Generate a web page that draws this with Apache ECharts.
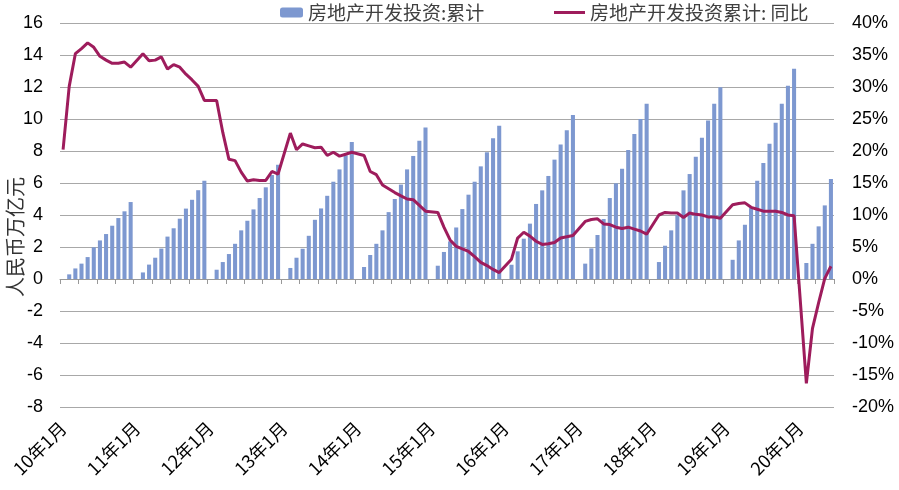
<!DOCTYPE html>
<html>
<head>
<meta charset="utf-8">
<script src="https://cdn.jsdelivr.net/npm/echarts@6/dist/echarts.min.js"></script>
<style>html,body{margin:0;padding:0;background:#fff;}#chart{width:899px;height:490px;}</style>
</head>
<body>
<div id="chart"></div>
<script>
// Years shown on the axis (category labels are "YY年M月")
var years = [10, 11, 12, 13, 14, 15, 16, 17, 18, 19, 20];
var monthsLastYear = 6;

// 房地产开发投资:累计 (万亿元), Jan..Dec per year
var inv2010 = [null, 0.29, 0.66, 0.96, 1.37, 1.98, 2.41, 2.81, 3.33, 3.81, 4.23, 4.81];
var inv2011 = [null, 0.41, 0.90, 1.33, 1.90, 2.65, 3.17, 3.77, 4.40, 4.95, 5.55, 6.14];
var inv2012 = [null, 0.58, 1.06, 1.56, 2.20, 3.04, 3.64, 4.35, 5.06, 5.73, 6.50, 7.14];
var inv2013 = [null, 0.69, 1.33, 1.89, 2.70, 3.70, 4.41, 5.20, 6.08, 6.85, 7.73, 8.56];
var inv2014 = [null, 0.75, 1.50, 2.20, 3.04, 4.18, 5.00, 5.90, 6.85, 7.69, 8.64, 9.47];
var inv2015 = [null, 0.83, 1.69, 2.35, 3.22, 4.37, 5.27, 6.08, 7.04, 7.92, 8.79, 9.58];
var inv2016 = [null, 0.89, 1.73, 2.52, 3.46, 4.69, 5.54, 6.44, 7.46, 8.40, 9.29, 10.25];
var inv2017 = [null, 0.96, 1.91, 2.75, 3.75, 5.06, 5.98, 6.89, 8.06, 9.06, 10.00, 10.96];
var inv2018 = [null, 1.06, 2.08, 3.04, 3.98, 5.54, 6.56, 7.64, 8.83, 9.91, 10.96, 11.98];
var inv2019 = [null, 1.20, 2.41, 3.39, 4.43, 6.14, 7.25, 8.46, 9.77, 10.96, 12.08, 13.14];
var inv2020 = [null, 1.00, 2.20, 3.29, 4.60, 6.25];

// 房地产开发投资累计: 同比 (%), Jan..Dec per year
var yoy2010 = [20.2, 30.1, 35.2, 36.0, 36.9, 36.2, 34.8, 34.2, 33.7, 33.7, 33.9, 33.1];
var yoy2011 = [null, 35.2, 34.1, 34.2, 34.7, 32.8, 33.5, 33.1, 32.0, 31.1, 30.1, 27.9];
var yoy2012 = [null, 27.9, 22.9, 18.7, 18.5, 16.7, 15.3, 15.5, 15.4, 15.4, 16.8, 16.4];
var yoy2013 = [null, 22.8, 20.2, 21.1, 20.8, 20.5, 20.6, 19.3, 19.8, 19.2, 19.5, 19.8];
var yoy2014 = [null, 19.3, 16.8, 16.3, 14.7, 14.1, 13.5, 13.0, 12.5, 12.4, 11.5, 10.6];
var yoy2015 = [null, 10.4, 8.1, 6.1, 5.1, 4.7, 4.3, 3.5, 2.6, 2.1, 1.5, 1.0];
var yoy2016 = [null, 3.1, 6.4, 7.3, 6.7, 5.9, 5.4, 5.5, 5.7, 6.4, 6.6, 6.8];
var yoy2017 = [null, 9.0, 9.3, 9.4, 8.6, 8.5, 8.1, 7.9, 8.1, 7.8, 7.5, 7.0];
var yoy2018 = [null, 10.0, 10.4, 10.3, 10.3, 9.6, 10.3, 10.1, 10.0, 9.7, 9.7, 9.5];
var yoy2019 = [null, 11.6, 11.8, 11.9, 11.2, 10.9, 10.6, 10.6, 10.6, 10.4, 10.0, 9.9];
var yoy2020 = [null, -16.3, -7.7, -3.7, 0.1, 2.0];

// Axis ticks
var leftMin = -8, leftMax = 16, leftStep = 2;
var rightMin = -20, rightMax = 40, rightStep = 5;

var categories = [];
years.forEach(function (y, k) {
  var n = (k === years.length - 1) ? monthsLastYear : 12;
  for (var m = 1; m <= n; m++) categories.push(y + '年' + m + '月');
});
var invest = [].concat(inv2010, inv2011, inv2012, inv2013, inv2014, inv2015, inv2016, inv2017, inv2018, inv2019, inv2020);
var yoy = [].concat(yoy2010, yoy2011, yoy2012, yoy2013, yoy2014, yoy2015, yoy2016, yoy2017, yoy2018, yoy2019, yoy2020);

var FONT = 'Liberation Sans, Arial, Noto Sans CJK SC, sans-serif';
var CJK = 'Noto Sans CJK SC, sans-serif';
var barName = '房地产开发投资:累计';
var lineName = '房地产开发投资累计: 同比';

var chart = echarts.init(document.getElementById('chart'), null, {renderer: 'canvas'});
chart.setOption({
  animation: false,
  backgroundColor: '#ffffff',
  grid: {left: 60, right: 65, top: 23, bottom: 83, containLabel: false, outerBoundsMode: 'none'},
  legend: [
    {data: [barName], left: 275, top: -2, itemWidth: 23, itemHeight: 10, itemGap: 5,
     textStyle: {fontFamily: CJK, fontSize: 19, color: '#404040'}},
    {data: [lineName], left: 549, top: -2, itemWidth: 31, itemHeight: 3,
     icon: 'rect',
     textStyle: {fontFamily: CJK, fontSize: 19, color: '#404040'}}
  ],
  graphic: [{
    type: 'text', x: 15, y: 237, rotation: Math.PI / 2,
    style: {text: '人民币万亿元', font: '20px ' + CJK, fill: '#333333', align: 'center', verticalAlign: 'middle'}
  }],
  xAxis: [
    {type: 'category', data: categories, boundaryGap: true, position: 'bottom',
     axisLine: {show: false, onZero: false}, axisTick: {show: false},
     axisLabel: {interval: 11, rotate: 45, margin: 18, fontFamily: CJK, fontSize: 18, color: '#000000'},
     splitLine: {show: false}},
    {type: 'category', data: categories, boundaryGap: true, position: 'bottom',
     axisLine: {show: true, onZero: true, onZeroAxisIndex: 0, lineStyle: {color: '#999999', width: 1}},
     axisTick: {show: true, interval: 2, length: 5, lineStyle: {color: '#999999'}},
     axisLabel: {show: false},
     splitLine: {show: false}}
  ],
  yAxis: [
    {type: 'value', min: leftMin, max: leftMax, interval: leftStep,
     axisLine: {show: false}, axisTick: {show: false},
     axisLabel: {fontFamily: FONT, fontSize: 18, color: '#000000', margin: 17},
     splitLine: {show: true, lineStyle: {color: '#a8a8a8', width: 1}}},
    {type: 'value', min: rightMin, max: rightMax, interval: rightStep, position: 'right',
     axisLine: {show: false}, axisTick: {show: false},
     axisLabel: {fontFamily: FONT, fontSize: 18, color: '#000000', margin: 18, formatter: '{value}%'},
     splitLine: {show: false}}
  ],
  series: [
    {name: barName, type: 'bar', data: invest, xAxisIndex: 0, yAxisIndex: 0, barWidth: '66%',
     itemStyle: {color: '#7d98d0'}},
    {name: lineName, type: 'line', data: yoy, xAxisIndex: 0, yAxisIndex: 1, symbol: 'none', connectNulls: true,
     lineStyle: {color: '#9e1c5c', width: 3}, itemStyle: {color: '#9e1c5c'}, z: 5}
  ]
});
</script>
</body>
</html>
